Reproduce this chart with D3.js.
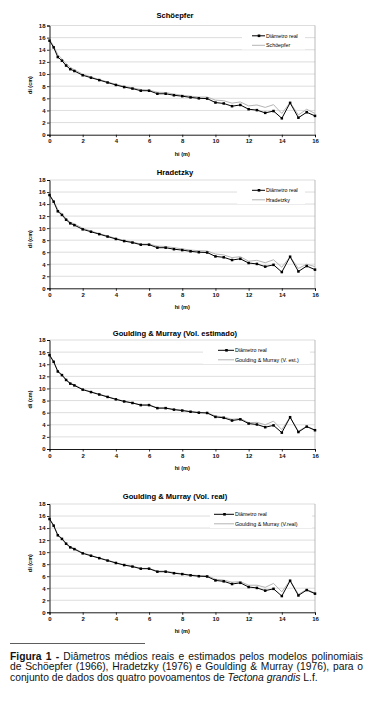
<!DOCTYPE html>
<html>
<head>
<meta charset="utf-8">
<script src="https://cdn.jsdelivr.net/npm/d3@7"></script>
<style>
  body { margin: 0; background: #fff; }
  #wrap { position: relative; width: 369px; height: 703px; }
  svg { position: absolute; left: 0; top: 0; }
  .cap { position: absolute; left: 10px; width: 353px; height: 10px; line-height: 10px; font-family: "Liberation Sans Narrow", "Liberation Sans", Arial, sans-serif; font-size: 10.3px; color: #111; white-space: nowrap; }
  .just { text-align: justify; text-align-last: justify; }
</style>
</head>
<body>
<div id="wrap">
<svg id="fig" width="369" height="703"></svg>
<div class="cap just" style="top:652px"><b>Figura 1 -</b> Diâmetros médios reais e estimados pelos modelos polinomiais</div>
<div class="cap just" style="top:662.3px">de Schöepfer (1966), Hradetzky (1976) e Goulding &amp; Murray (1976), para o</div>
<div class="cap" style="top:672.6px">conjunto de dados dos quatro povoamentos de <i>Tectona grandis</i> L.f.</div>
</div>
<script>
var hi = [0,0.25,0.5,0.75,1,1.25,1.5,2,2.5,3,3.5,4,4.5,5,5.5,6,6.5,7,7.5,8,8.5,9,9.5,10,10.5,11,11.5,12,12.5,13,13.5,14,14.5,15,15.5,16];
var diamReal = [15.5,14.4,12.8,12.2,11.4,10.8,10.5,9.8,9.4,9.0,8.6,8.2,7.85,7.6,7.25,7.25,6.75,6.75,6.5,6.35,6.15,6.0,5.95,5.3,5.15,4.7,4.9,4.2,4.05,3.6,3.9,2.7,5.25,2.8,3.7,3.1];
var schoepfer = [15.7,14.6,13.2,12.5,11.7,11.1,10.7,10.0,9.5,9.1,8.7,8.3,8.0,7.7,7.45,7.35,7.0,6.95,6.7,6.5,6.35,6.2,6.2,5.7,5.6,5.2,5.4,4.75,4.9,4.5,4.95,3.5,5.3,3.25,4.2,3.5];
var hradetzky = [15.6,14.5,13.1,12.4,11.6,11.0,10.7,10.0,9.5,9.1,8.7,8.3,7.95,7.7,7.35,7.35,7.0,6.95,6.75,6.55,6.35,6.25,6.2,5.7,5.55,5.1,5.25,4.5,4.65,4.25,4.75,3.5,5.25,3.3,4.0,3.6];
var gmEst = [15.6,14.5,12.9,12.3,11.5,10.9,10.6,9.9,9.45,9.05,8.65,8.25,7.9,7.65,7.3,7.3,6.8,6.8,6.55,6.4,6.2,6.05,6.0,5.45,5.3,4.9,5.05,4.35,4.4,4.0,4.6,3.2,5.25,2.95,3.75,3.15];
var gmReal = [15.6,14.5,12.9,12.3,11.5,10.9,10.6,9.9,9.45,9.05,8.65,8.25,7.9,7.65,7.3,7.3,6.85,6.85,6.6,6.4,6.2,6.1,6.1,5.5,5.35,5.0,5.1,4.5,4.5,4.15,4.8,3.4,5.3,3.0,3.8,3.2];

var titles = ["Schöepfer", "Hradetzky", "Goulding & Murray (Vol. estimado)", "Goulding & Murray (Vol. real)"];
var legendNames = ["Schöepfer", "Hradetzky", "Goulding & Murray (V. est.)", "Goulding & Murray (V.real)"];
var estimates = [schoepfer, hradetzky, gmEst, gmReal];
var xTicks = [0,2,4,6,8,10,12,14,16];
var yTicks = [0,2,4,6,8,10,12,14,16,18];

// layout of each panel: top of plot, bottom of plot, title y, legend box
var panels = [
  {top: 25.5, bottom: 134.7, titleY: 15, boxL: 242, boxR: 305, lineX: 252, textX: 266},
  {top: 180, bottom: 288.3, titleY: 172, boxL: 237, boxR: 305, lineX: 252, textX: 266},
  {top: 340, bottom: 449, titleY: 333.5, boxL: 203, boxR: 310, lineX: 218, textX: 235},
  {top: 504, bottom: 612.3, titleY: 496, boxL: 210, boxR: 312, lineX: 214, textX: 235}
];
var left = 49.5, right = 315;
var font = "'Liberation Sans', Arial, sans-serif";

var svg = d3.select("#fig");
var x = d3.scaleLinear().domain([0, 16]).range([left, right]);

panels.forEach(function (p, k) {
  var y = d3.scaleLinear().domain([0, 18]).range([p.bottom, p.top]);
  var g = svg.append("g");

  g.append("text").attr("x", 175).attr("y", p.titleY + 2.8)
    .attr("text-anchor", "middle").attr("font-family", font)
    .attr("font-weight", "bold").attr("font-size", 7.6).text(titles[k]);

  // gridlines
  g.selectAll(".grid").data(yTicks.slice(1)).enter().append("line")
    .attr("x1", left).attr("x2", right)
    .attr("y1", function (d) { return y(d); }).attr("y2", function (d) { return y(d); })
    .attr("stroke", "#d4d4d4").attr("stroke-width", 0.8);
  g.append("line").attr("x1", right).attr("x2", right).attr("y1", p.top).attr("y2", p.bottom)
    .attr("stroke", "#aaa").attr("stroke-width", 0.8);

  var xa = g.append("g").attr("transform", "translate(0," + p.bottom + ")")
    .call(d3.axisBottom(x).tickValues(xTicks).tickSize(2.5).tickPadding(2).tickFormat(d3.format("d")));
  var ya = g.append("g").attr("transform", "translate(" + left + ",0)")
    .call(d3.axisLeft(y).tickValues(yTicks).tickSize(2.5).tickPadding(1.5).tickFormat(d3.format("d")));
  [xa, ya].forEach(function (a) {
    a.select(".domain").attr("stroke", "#000").attr("stroke-width", 0.9);
    a.selectAll(".tick line").attr("stroke", "#000").attr("stroke-width", 0.8);
    a.selectAll("text").attr("font-family", font).attr("font-size", 6)
      .attr("font-weight", "bold").attr("fill", "#111");
  });

  g.append("text").attr("x", x(8)).attr("y", p.bottom + 21)
    .attr("text-anchor", "middle").attr("font-family", font)
    .attr("font-weight", "bold").attr("font-size", 5.5).text("hi (m)");
  g.append("text").attr("transform", "translate(32," + ((p.top + p.bottom) / 2 + 5) + ") rotate(-90)")
    .attr("text-anchor", "middle").attr("font-family", font)
    .attr("font-weight", "bold").attr("font-size", 5.5).text("di (cm)");

  // legend box hides gridlines
  g.append("rect").attr("x", p.boxL).attr("y", p.top + 4).attr("width", p.boxR - p.boxL)
    .attr("height", 20).attr("fill", "#fff");

  var line = d3.line().x(function (d, i) { return x(hi[i]); }).y(function (d) { return y(d); });

  g.append("path").datum(estimates[k]).attr("d", line)
    .attr("fill", "none").attr("stroke", "#b4b4b4").attr("stroke-width", 1);
  g.append("path").datum(diamReal).attr("d", line)
    .attr("fill", "none").attr("stroke", "#000").attr("stroke-width", 1);
  g.selectAll(".pt").data(diamReal).enter().append("rect")
    .attr("x", function (d, i) { return x(hi[i]) - 1.25; })
    .attr("y", function (d) { return y(d) - 1.25; })
    .attr("width", 2.5).attr("height", 2.5).attr("fill", "#000");

  // legend
  var ly1 = p.top + 10.3, ly2 = p.top + 19.8;
  g.append("line").attr("x1", p.lineX).attr("x2", p.textX - 1).attr("y1", ly1).attr("y2", ly1)
    .attr("stroke", "#000").attr("stroke-width", 1);
  g.append("rect").attr("x", (p.lineX + p.textX) / 2 - 1.3).attr("y", ly1 - 1.3)
    .attr("width", 2.6).attr("height", 2.6).attr("fill", "#000");
  g.append("line").attr("x1", p.lineX).attr("x2", p.textX - 1).attr("y1", ly2).attr("y2", ly2)
    .attr("stroke", "#b4b4b4").attr("stroke-width", 1);
  g.append("text").attr("x", p.textX).attr("y", ly1 + 1.9).attr("font-family", font)
    .attr("font-size", 5.3).text("Diâmetro real");
  g.append("text").attr("x", p.textX).attr("y", ly2 + 1.9).attr("font-family", font)
    .attr("font-size", 5.3).text(legendNames[k]);
});

svg.append("line").attr("x1", 10).attr("x2", 145).attr("y1", 643.5).attr("y2", 643.5)
  .attr("stroke", "#333").attr("stroke-width", 0.8);
</script>
</body>
</html>
